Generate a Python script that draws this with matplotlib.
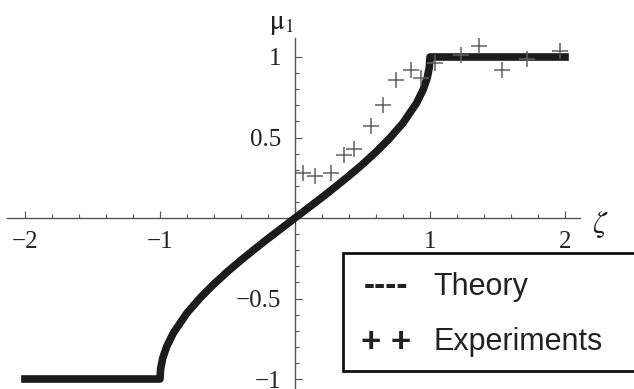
import matplotlib

matplotlib.use("Agg")
import matplotlib.pyplot as plt
from matplotlib.patches import Rectangle

# theory curve mu_1(zeta), read point by point
theory_zeta = [-2.0, -1.0, -1.0, -0.995, -0.98, -0.95, -0.9, -0.8, -0.7, -0.6, -0.5, -0.4,
               -0.3, -0.2, -0.1, 0.0, 0.1, 0.2, 0.3, 0.4, 0.5, 0.6, 0.7, 0.8, 0.9, 0.95,
               0.98, 0.995, 1.0, 1.0, 2.0]
theory_mu = [-1.0, -1.0, -1.0, -0.936, -0.872, -0.798, -0.713, -0.590, -0.494, -0.410, -0.333,
             -0.262, -0.194, -0.128, -0.064, 0.0, 0.064, 0.128, 0.194, 0.262, 0.333, 0.410,
             0.494, 0.590, 0.713, 0.798, 0.872, 0.936, 1.0, 1.0, 1.0]

# measured points
exp_zeta = [0.06, 0.15, 0.27, 0.36, 0.44, 0.56, 0.65, 0.75, 0.86, 0.93, 1.04, 1.23, 1.36,
            1.53, 1.72, 1.96]
exp_mu = [0.28, 0.26, 0.28, 0.39, 0.43, 0.57, 0.70, 0.86, 0.92, 0.87, 0.96, 1.01, 1.07,
          0.92, 0.99, 1.04]

x_ticks = [-2, -1, 1, 2]
x_labels = ["\u22122", "\u22121", "1", "2"]
y_ticks = [-1, -0.5, 0.5, 1]
y_labels = ["\u22121", "\u22120.5", "0.5", "1"]

legend_labels = ["Theory", "Experiments"]
legend_keys = ["----", "+ +"]

W, H = 634, 389
plt.rcParams["mathtext.fontset"] = "stix"

fig = plt.figure(figsize=(W / 100, H / 100), dpi=100)
ax = fig.add_axes([7 / W, 0, 573 / W, 351 / H])
ax.set_xlim(-2.133, 2.111)
ax.set_ylim(-1.062, 1.118)

for side in ("top", "right"):
    ax.spines[side].set_visible(False)
for side in ("left", "bottom"):
    ax.spines[side].set_position("zero")
    ax.spines[side].set_color("#555555")
    ax.spines[side].set_linewidth(1.0)

ax.set_xticks(x_ticks, x_labels)
ax.set_yticks(y_ticks, y_labels)
ax.set_xticks([i / 5 for i in range(-10, 11) if i % 5], minor=True)
ax.set_yticks([i / 10 for i in range(-10, 11) if i % 5 and i], minor=True)
ax.tick_params(which="both", direction="in", color="#555555", width=0.8)
ax.tick_params(which="major", length=5)
ax.tick_params(which="minor", length=3)
ax.tick_params(axis="x", pad=9)
ax.tick_params(axis="y", pad=10)
for lbl in ax.get_xticklabels() + ax.get_yticklabels():
    lbl.set_fontfamily("Liberation Serif")
    lbl.set_fontsize(18)
    lbl.set_color("#222222")

ax.plot(theory_zeta, theory_mu, color="#1c1c1c", lw=5.5, solid_capstyle="projecting",
        solid_joinstyle="round", zorder=3, clip_on=False)
ax.plot(exp_zeta, exp_mu, ls="none", marker="+", ms=11, mew=1.1, color="#606060",
        zorder=4, clip_on=False)

ax.text(-0.1, 1.21, r"$\mathrm{\mu}_{1}$", fontsize=20, ha="center", va="center",
        color="#222222", clip_on=False)
ax.text(2.26, -0.04, r"$\zeta$", fontsize=22, ha="center", va="center",
        color="#222222", clip_on=False)

# boxed key in the lower right corner
fig.add_artist(Rectangle((343 / W, 18 / H), 0.6, 118 / H, transform=fig.transFigure,
                         facecolor="white", edgecolor="#111111", lw=2.0, zorder=10))
for i, (key, label) in enumerate(zip(legend_keys, legend_labels)):
    yc = (389 - (287 + 55 * i)) / H
    fig.text(386 / W, yc, key, fontsize=24 if i == 0 else 25, fontweight="bold",
             ha="center", va="center", family="Liberation Sans", color="#222222", zorder=11)
    fig.text(433 / W, yc, label, fontsize=22, ha="left", va="center",
             family="Liberation Sans", color="#222222", zorder=11)

fig.savefig("out.png", dpi=100)
